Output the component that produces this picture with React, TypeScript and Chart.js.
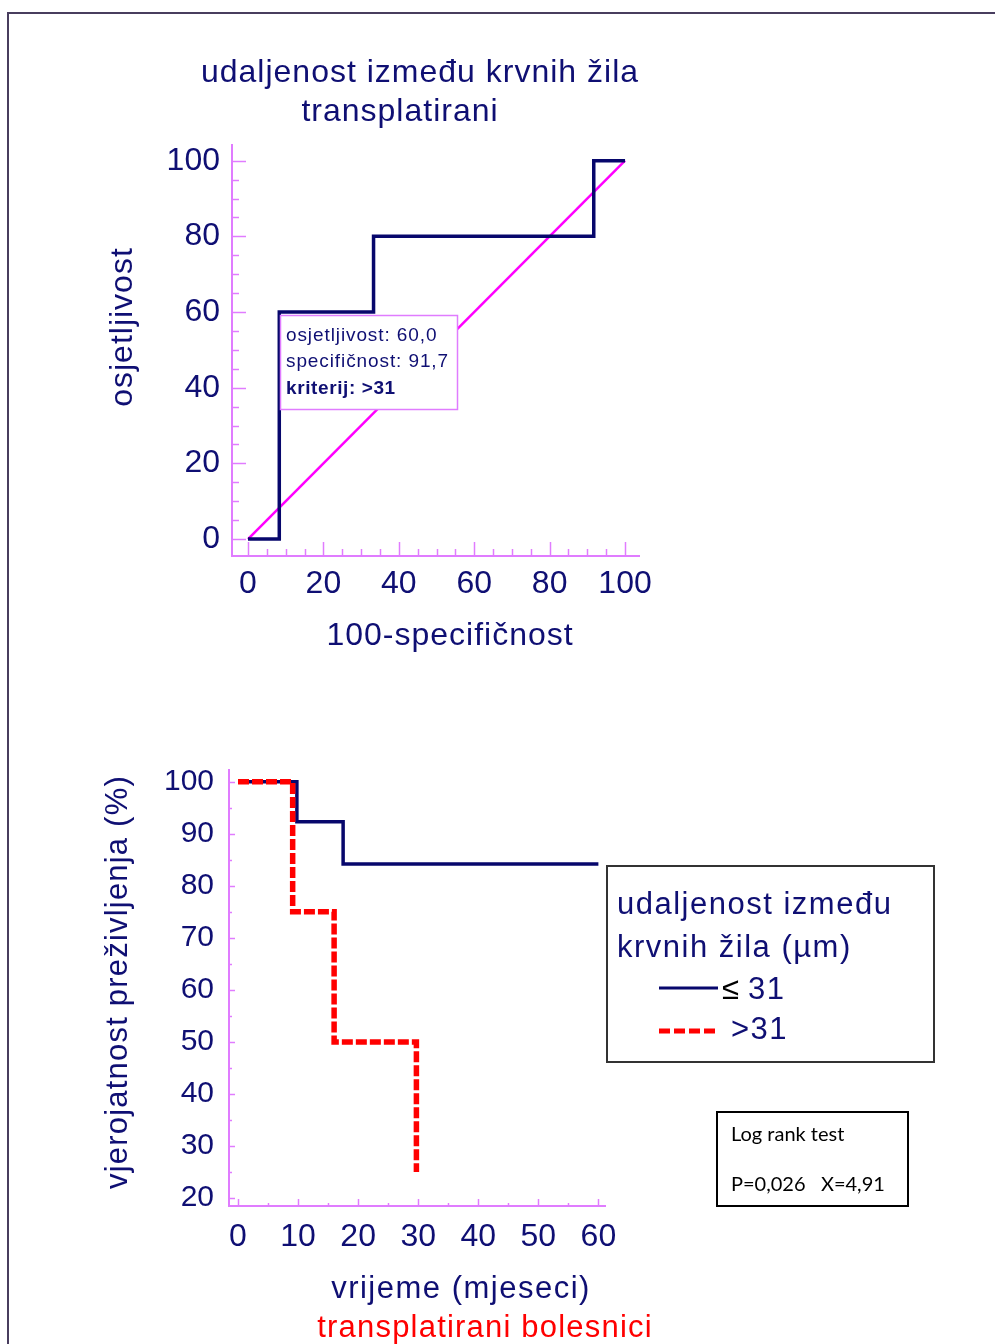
import React, { useEffect, useRef } from 'react';
import { Chart, registerables } from 'chart.js';
Chart.register(...registerables);

// ---------- data ----------
// ROC curve: 100-specificity (x) vs sensitivity (y)
const rocFpr = [0, 8.3, 33.3, 91.7, 100];
const rocSens = [0, 60, 80, 100, 100];
const diagX = [0, 100];
const diagY = [0, 100];
const rocTickLabels = [0, 20, 40, 60, 80, 100];

// Kaplan-Meier: time (months) vs survival (%)
const kmTimeLow = [0, 9.8, 17.5, 60];
const kmSurvLow = [100, 92.3, 84.2, 84.2];
const kmTimeHigh = [0, 9.1, 16, 29.7];
const kmSurvHigh = [100, 75, 50, 25];
const kmXTickLabels = [0, 10, 20, 30, 40, 50, 60];
const kmYTickLabels = [20, 30, 40, 50, 60, 70, 80, 90, 100];

// ---------- styles ----------
const FONT = "'Liberation Sans', Arial, sans-serif";
const NAVY = '#0f0f73';
const LINE_NAVY = '#07076c';
const AXIS = '#e07cff';
const RED = '#ff0000';

type TextItem = {
  text: string; x: number; y: number; size: number; color?: string;
  bold?: boolean; align?: CanvasTextAlign; rotate?: boolean; ls?: number; family?: string;
};

function drawTexts(ctx: CanvasRenderingContext2D, items: TextItem[], offY: number) {
  for (const it of items) {
    ctx.save();
    ctx.font = `${it.bold ? 'bold ' : ''}${it.size}px ${it.family ?? FONT}`;
    ctx.fillStyle = it.color ?? NAVY;
    ctx.textAlign = it.align ?? 'center';
    ctx.textBaseline = 'middle';
    (ctx as any).letterSpacing = `${it.ls ?? 0}px`;
    ctx.translate(it.x, it.y - offY);
    if (it.rotate) ctx.rotate(-Math.PI / 2);
    ctx.fillText(it.text, 0, 0);
    ctx.restore();
  }
}

function drawInnerTicks(chart: any, o: {
  xFrom: number; xTo: number; xMinor: number; xMajor: number; xMajLen: number; xMinLen: number;
  yFrom: number; yTo: number; yMinor: number; yMajor: number; yMajLen: number; yMinLen: number;
}) {
  const { ctx, scales } = chart;
  const x = scales.x, y = scales.y;
  ctx.save();
  ctx.strokeStyle = AXIS;
  ctx.lineWidth = 1.5;
  for (let v = o.xFrom; v <= o.xTo + 1e-9; v += o.xMinor) {
    const px = Math.round(x.getPixelForValue(v)) + 0.5;
    const major = Math.abs(v % o.xMajor) < 1e-6;
    const len = major ? o.xMajLen : o.xMinLen;
    ctx.beginPath();
    ctx.moveTo(px, y.bottom);
    ctx.lineTo(px, y.bottom - len);
    ctx.stroke();
  }
  for (let v = o.yFrom; v <= o.yTo + 1e-9; v += o.yMinor) {
    const py = Math.round(y.getPixelForValue(v)) + 0.5;
    const major = Math.abs(v % o.yMajor) < 1e-6;
    const len = major ? o.yMajLen : o.yMinLen;
    ctx.beginPath();
    ctx.moveTo(x.left, py);
    ctx.lineTo(x.left + len, py);
    ctx.stroke();
  }
  ctx.restore();
}

const ROC_TOP = 0;
const ROC_H = 680;
const KM_TOP = 680;
const KM_H = 664;

export default function App() {
  const rocRef = useRef<HTMLCanvasElement>(null);
  const kmRef = useRef<HTMLCanvasElement>(null);

  useEffect(() => {
    const rocPlugin = {
      id: 'rocDecor',
      afterDraw(chart: any) {
        const ctx = chart.ctx as CanvasRenderingContext2D;
        drawInnerTicks(chart, {
          xFrom: 0, xTo: 100, xMinor: 5, xMajor: 20, xMajLen: 14, xMinLen: 7,
          yFrom: 0, yTo: 100, yMinor: 5, yMajor: 20, yMajLen: 14, yMinLen: 7,
        });
        // annotation box
        ctx.save();
        ctx.fillStyle = '#ffffff';
        ctx.fillRect(280, 315 - ROC_TOP, 177, 94);
        ctx.strokeStyle = AXIS;
        ctx.lineWidth = 1.5;
        ctx.strokeRect(280.5, 315.5 - ROC_TOP, 177, 94);
        ctx.restore();
        drawTexts(ctx, [
          { text: 'osjetljivost: 60,0', x: 286, y: 336, size: 19, align: 'left', ls: 0.9 },
          { text: 'specifičnost: 91,7', x: 286, y: 362, size: 19, align: 'left', ls: 0.9 },
          { text: 'kriterij: >31', x: 286, y: 389, size: 19, align: 'left', ls: 0.6, bold: true },
          { text: 'udaljenost između krvnih žila', x: 420, y: 73, size: 32, ls: 1 },
          { text: 'transplatirani', x: 400, y: 112, size: 32, ls: 1 },
          { text: '100-specifičnost', x: 450, y: 636, size: 32, ls: 1 },
          { text: 'osjetljivost', x: 123, y: 327, size: 32, ls: 1, rotate: true },
        ], ROC_TOP);
      },
    };

    const kmPlugin = {
      id: 'kmDecor',
      afterDraw(chart: any) {
        const ctx = chart.ctx as CanvasRenderingContext2D;
        drawInnerTicks(chart, {
          xFrom: 0, xTo: 60, xMinor: 5, xMajor: 10, xMajLen: 7, xMinLen: 3,
          yFrom: 20, yTo: 100, yMinor: 5, yMajor: 10, yMajLen: 6, yMinLen: 3,
        });
        const o = KM_TOP;
        ctx.save();
        // legend box
        ctx.strokeStyle = '#333333';
        ctx.lineWidth = 2;
        ctx.strokeRect(607, 866 - o, 327, 196);
        // sample lines
        ctx.strokeStyle = LINE_NAVY;
        ctx.lineWidth = 3;
        ctx.beginPath();
        ctx.moveTo(659, 988 - o);
        ctx.lineTo(718, 988 - o);
        ctx.stroke();
        ctx.strokeStyle = RED;
        ctx.lineWidth = 5;
        ctx.setLineDash([11, 4]);
        ctx.beginPath();
        ctx.moveTo(659, 1031 - o);
        ctx.lineTo(718, 1031 - o);
        ctx.stroke();
        ctx.setLineDash([]);
        // log rank box
        ctx.strokeStyle = '#000000';
        ctx.lineWidth = 2;
        ctx.strokeRect(717, 1112 - o, 191, 94);
        ctx.restore();
        drawTexts(ctx, [
          { text: 'udaljenost između', x: 617, y: 905, size: 31, align: 'left', ls: 1.5 },
          { text: 'krvnih žila (µm)', x: 617, y: 948, size: 31, align: 'left', ls: 1.5 },
          { text: '≤', x: 722, y: 990, size: 31, align: 'left', color: '#000000' },
          { text: '31', x: 748, y: 990, size: 31, align: 'left', ls: 1.5 },
          { text: '>31', x: 731, y: 1030, size: 31, align: 'left', ls: 1.5 },
          { text: 'Log rank test', x: 731, y: 1135, size: 20, align: 'left', color: '#000000', family: "Lato, 'Open Sans', sans-serif" },
          { text: 'P=0,026   X=4,91', x: 731, y: 1185, size: 20, align: 'left', color: '#000000', family: "Lato, 'Open Sans', sans-serif" },
          { text: 'vjerojatnost preživljenja (%)', x: 118, y: 982, size: 31, ls: 1.2, rotate: true },
          { text: 'vrijeme (mjeseci)', x: 461, y: 1289, size: 31, ls: 1.5 },
          { text: 'transplatirani bolesnici', x: 485, y: 1328, size: 31, ls: 1.2, color: RED },
        ], o);
      },
    };

    const rocTickFont = { family: FONT, size: 32 };

    const roc = new Chart(rocRef.current!, {
      type: 'line',
      data: {
        datasets: [
          {
            data: rocFpr.map((x, i) => ({ x, y: rocSens[i] })),
            borderColor: LINE_NAVY, borderWidth: 3.5, stepped: 'before', pointRadius: 0,
            fill: false, borderJoinStyle: 'miter', borderCapStyle: 'butt',
          },
          {
            data: diagX.map((x, i) => ({ x, y: diagY[i] })),
            borderColor: '#ff00ff', borderWidth: 2.5, pointRadius: 0, fill: false,
          },
        ],
      },
      options: {
        animation: false, responsive: false, maintainAspectRatio: false, events: [],
        layout: { padding: { left: 0, top: 145, right: 995 - 639, bottom: 0 } },
        plugins: { legend: { display: false }, tooltip: { enabled: false } },
        scales: {
          x: {
            type: 'linear', min: -4.24, max: 103.7,
            grid: { display: false, drawTicks: false },
            border: { display: true, color: AXIS, width: 2 },
            ticks: { font: rocTickFont, color: NAVY, padding: 9, maxRotation: 0 },
            afterBuildTicks: (s: any) => { s.ticks = rocTickLabels.map((v) => ({ value: v })); },
            afterFit: (s: any) => { s.height = ROC_H - 556; },
          },
          y: {
            type: 'linear', min: -4.49, max: 104.15,
            grid: { display: false, drawTicks: false },
            border: { display: true, color: AXIS, width: 2 },
            ticks: { font: rocTickFont, color: NAVY, padding: 12 },
            afterBuildTicks: (s: any) => { s.ticks = rocTickLabels.map((v) => ({ value: v })); },
            afterFit: (s: any) => { s.width = 232; },
          },
        },
      } as any,
      plugins: [rocPlugin],
    } as any);

    const km = new Chart(kmRef.current!, {
      type: 'line',
      data: {
        datasets: [
          {
            data: kmTimeHigh.map((x, i) => ({ x, y: kmSurvHigh[i] })),
            borderColor: RED, borderWidth: 5.5, stepped: 'before', pointRadius: 0,
            fill: false, borderDash: [11, 3], borderJoinStyle: 'miter', borderCapStyle: 'butt',
          },
          {
            data: kmTimeLow.map((x, i) => ({ x, y: kmSurvLow[i] })),
            borderColor: LINE_NAVY, borderWidth: 3.5, stepped: 'before', pointRadius: 0,
            fill: false, borderJoinStyle: 'miter', borderCapStyle: 'butt',
          },
        ],
      },
      options: {
        animation: false, responsive: false, maintainAspectRatio: false, events: [],
        layout: { padding: { left: 0, top: 770 - KM_TOP, right: 995 - 605, bottom: 0 } },
        plugins: { legend: { display: false }, tooltip: { enabled: false } },
        scales: {
          x: {
            type: 'linear', min: -1.5, max: 61.1,
            grid: { display: false, drawTicks: false },
            border: { display: true, color: AXIS, width: 2 },
            ticks: { font: { family: FONT, size: 32 }, color: NAVY, padding: 12, maxRotation: 0 },
            afterBuildTicks: (s: any) => { s.ticks = kmXTickLabels.map((v) => ({ value: v })); },
            afterFit: (s: any) => { s.height = KM_H - (1206 - KM_TOP); },
          },
          y: {
            type: 'linear', min: 18.46, max: 102.25,
            grid: { display: false, drawTicks: false },
            border: { display: true, color: AXIS, width: 2 },
            ticks: { font: { family: FONT, size: 30 }, color: NAVY, padding: 15 },
            afterBuildTicks: (s: any) => { s.ticks = kmYTickLabels.map((v) => ({ value: v })); },
            afterFit: (s: any) => { s.width = 229; },
          },
        },
      } as any,
      plugins: [kmPlugin],
    } as any);

    return () => { roc.destroy(); km.destroy(); };
  }, []);

  return (
    <div style={{ position: 'absolute', left: 0, top: 0, width: 995, height: 1344, overflow: 'hidden', background: '#ffffff' }}>
      <div style={{ position: 'absolute', left: 7, top: 12, width: 1100, height: 1500, borderLeft: '2px solid #483d5e', borderTop: '2px solid #483d5e' }} />
      <canvas ref={rocRef} width={995} height={ROC_H} style={{ position: 'absolute', left: 0, top: ROC_TOP, width: 995, height: ROC_H }} />
      <canvas ref={kmRef} width={995} height={KM_H} style={{ position: 'absolute', left: 0, top: KM_TOP, width: 995, height: KM_H }} />
    </div>
  );
}
